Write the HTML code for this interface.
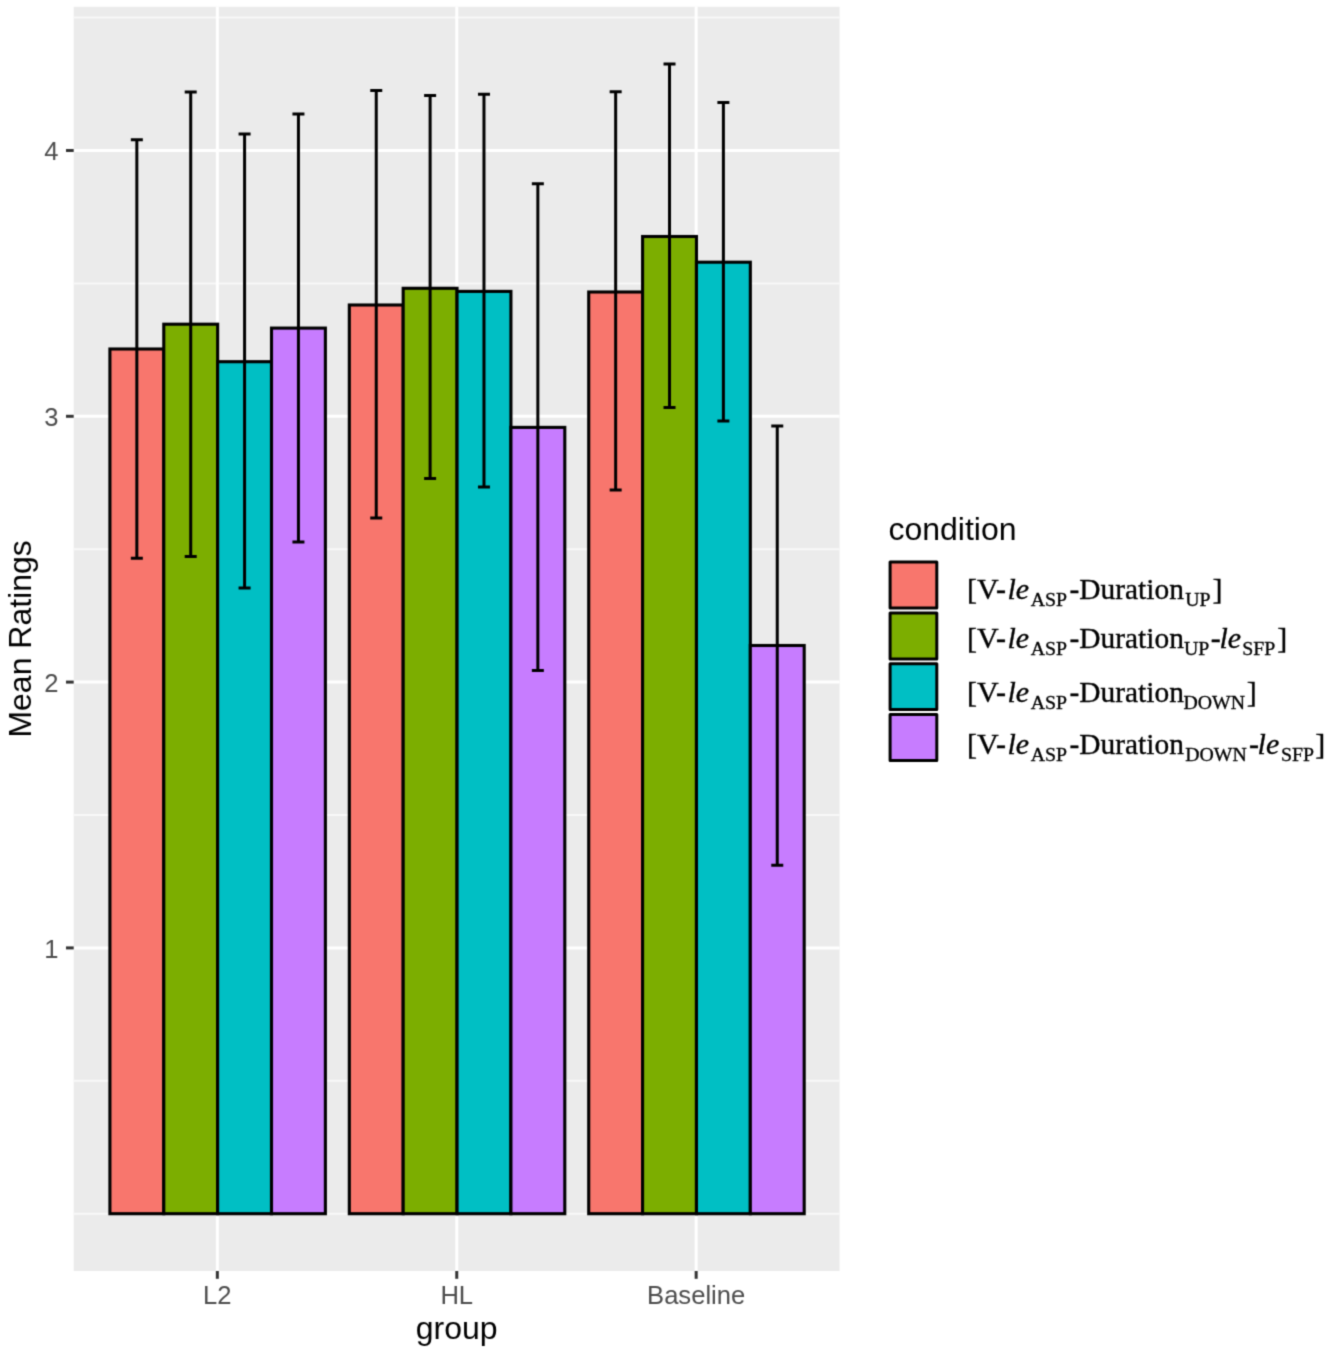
<!DOCTYPE html>
<html><head><meta charset="utf-8"><title>Mean Ratings by group</title>
<style>html,body{margin:0;padding:0;background:#fff;}body{width:1329px;height:1353px;overflow:hidden;}svg{display:block;}#c{width:1329px;height:1353px;}</style>
</head><body><div id="c">
<svg width="1329" height="1353" viewBox="0 0 1329 1353">
<defs><filter id="soft" x="0" y="0" width="1329" height="1353" filterUnits="userSpaceOnUse" color-interpolation-filters="sRGB"><feConvolveMatrix order="3" kernelMatrix="0.02768 0.11101 0.02768 0.11101 0.44521 0.11101 0.02768 0.11101 0.02768" edgeMode="duplicate" preserveAlpha="true"/></filter></defs>
<g filter="url(#soft)">
<rect x="0" y="0" width="1329" height="1353" fill="#FFFFFF"/>
<rect x="73.7" y="6.8" width="765.90" height="1264.20" fill="#EBEBEB"/>
<line x1="73.7" x2="839.6" y1="1213.70" y2="1213.70" stroke="#F8F8F8" stroke-width="2.0"/>
<line x1="73.7" x2="839.6" y1="1080.80" y2="1080.80" stroke="#F8F8F8" stroke-width="2.0"/>
<line x1="73.7" x2="839.6" y1="815.00" y2="815.00" stroke="#F8F8F8" stroke-width="2.0"/>
<line x1="73.7" x2="839.6" y1="549.20" y2="549.20" stroke="#F8F8F8" stroke-width="2.0"/>
<line x1="73.7" x2="839.6" y1="283.40" y2="283.40" stroke="#F8F8F8" stroke-width="2.0"/>
<line x1="73.7" x2="839.6" y1="17.60" y2="17.60" stroke="#F8F8F8" stroke-width="2.0"/>
<line x1="73.7" x2="839.6" y1="947.90" y2="947.90" stroke="#FFFFFF" stroke-width="3.0"/>
<line x1="73.7" x2="839.6" y1="682.10" y2="682.10" stroke="#FFFFFF" stroke-width="3.0"/>
<line x1="73.7" x2="839.6" y1="416.30" y2="416.30" stroke="#FFFFFF" stroke-width="3.0"/>
<line x1="73.7" x2="839.6" y1="150.50" y2="150.50" stroke="#FFFFFF" stroke-width="3.0"/>
<line x1="217.34" x2="217.34" y1="6.8" y2="1271.0" stroke="#FFFFFF" stroke-width="3.0"/>
<line x1="456.75" x2="456.75" y1="6.8" y2="1271.0" stroke="#FFFFFF" stroke-width="3.0"/>
<line x1="696.16" x2="696.16" y1="6.8" y2="1271.0" stroke="#FFFFFF" stroke-width="3.0"/>
<rect x="109.91" y="349.00" width="53.87" height="864.70" fill="#F8766D" stroke="#000000" stroke-width="3.1" stroke-linejoin="miter"/>
<rect x="163.78" y="324.20" width="53.87" height="889.50" fill="#7CAE00" stroke="#000000" stroke-width="3.1" stroke-linejoin="miter"/>
<rect x="217.64" y="361.70" width="53.87" height="852.00" fill="#00BFC4" stroke="#000000" stroke-width="3.1" stroke-linejoin="miter"/>
<rect x="271.51" y="328.10" width="53.87" height="885.60" fill="#C77CFF" stroke="#000000" stroke-width="3.1" stroke-linejoin="miter"/>
<rect x="349.32" y="305.00" width="53.87" height="908.70" fill="#F8766D" stroke="#000000" stroke-width="3.1" stroke-linejoin="miter"/>
<rect x="403.18" y="288.30" width="53.87" height="925.40" fill="#7CAE00" stroke="#000000" stroke-width="3.1" stroke-linejoin="miter"/>
<rect x="457.05" y="291.40" width="53.87" height="922.30" fill="#00BFC4" stroke="#000000" stroke-width="3.1" stroke-linejoin="miter"/>
<rect x="510.92" y="427.40" width="53.87" height="786.30" fill="#C77CFF" stroke="#000000" stroke-width="3.1" stroke-linejoin="miter"/>
<rect x="588.72" y="292.00" width="53.87" height="921.70" fill="#F8766D" stroke="#000000" stroke-width="3.1" stroke-linejoin="miter"/>
<rect x="642.59" y="236.50" width="53.87" height="977.20" fill="#7CAE00" stroke="#000000" stroke-width="3.1" stroke-linejoin="miter"/>
<rect x="696.46" y="262.20" width="53.87" height="951.50" fill="#00BFC4" stroke="#000000" stroke-width="3.1" stroke-linejoin="miter"/>
<rect x="750.32" y="645.50" width="53.87" height="568.20" fill="#C77CFF" stroke="#000000" stroke-width="3.1" stroke-linejoin="miter"/>
<path d="M130.84 139.80H142.84M136.84 139.80V558.20M130.84 558.20H142.84" fill="none" stroke="#000000" stroke-width="3.0" stroke-linecap="butt"/>
<path d="M184.71 92.00H196.71M190.71 92.00V556.40M184.71 556.40H196.71" fill="none" stroke="#000000" stroke-width="3.0" stroke-linecap="butt"/>
<path d="M238.58 133.90H250.58M244.58 133.90V588.00M238.58 588.00H250.58" fill="none" stroke="#000000" stroke-width="3.0" stroke-linecap="butt"/>
<path d="M292.44 114.00H304.44M298.44 114.00V542.00M292.44 542.00H304.44" fill="none" stroke="#000000" stroke-width="3.0" stroke-linecap="butt"/>
<path d="M370.25 90.60H382.25M376.25 90.60V518.10M370.25 518.10H382.25" fill="none" stroke="#000000" stroke-width="3.0" stroke-linecap="butt"/>
<path d="M424.12 95.40H436.12M430.12 95.40V478.40M424.12 478.40H436.12" fill="none" stroke="#000000" stroke-width="3.0" stroke-linecap="butt"/>
<path d="M477.98 94.20H489.98M483.98 94.20V486.90M477.98 486.90H489.98" fill="none" stroke="#000000" stroke-width="3.0" stroke-linecap="butt"/>
<path d="M531.85 183.70H543.85M537.85 183.70V670.50M531.85 670.50H543.85" fill="none" stroke="#000000" stroke-width="3.0" stroke-linecap="butt"/>
<path d="M609.66 91.70H621.66M615.66 91.70V489.90M609.66 489.90H621.66" fill="none" stroke="#000000" stroke-width="3.0" stroke-linecap="butt"/>
<path d="M663.52 63.90H675.52M669.52 63.90V407.50M663.52 407.50H675.52" fill="none" stroke="#000000" stroke-width="3.0" stroke-linecap="butt"/>
<path d="M717.39 102.50H729.39M723.39 102.50V420.90M717.39 420.90H729.39" fill="none" stroke="#000000" stroke-width="3.0" stroke-linecap="butt"/>
<path d="M771.26 425.90H783.26M777.26 425.90V865.30M771.26 865.30H783.26" fill="none" stroke="#000000" stroke-width="3.0" stroke-linecap="butt"/>
<line x1="66" x2="73.7" y1="947.90" y2="947.90" stroke="#333333" stroke-width="3.0"/>
<line x1="66" x2="73.7" y1="682.10" y2="682.10" stroke="#333333" stroke-width="3.0"/>
<line x1="66" x2="73.7" y1="416.30" y2="416.30" stroke="#333333" stroke-width="3.0"/>
<line x1="66" x2="73.7" y1="150.50" y2="150.50" stroke="#333333" stroke-width="3.0"/>
<line x1="217.34" x2="217.34" y1="1271.0" y2="1278.80" stroke="#333333" stroke-width="3.0"/>
<line x1="456.75" x2="456.75" y1="1271.0" y2="1278.80" stroke="#333333" stroke-width="3.0"/>
<line x1="696.16" x2="696.16" y1="1271.0" y2="1278.80" stroke="#333333" stroke-width="3.0"/>
<text x="58.5" y="957.56" font-family="'Liberation Sans', Arial, sans-serif" font-size="25.6" fill="#4D4D4D" text-anchor="end">1</text>
<text x="58.5" y="691.76" font-family="'Liberation Sans', Arial, sans-serif" font-size="25.6" fill="#4D4D4D" text-anchor="end">2</text>
<text x="58.5" y="425.96" font-family="'Liberation Sans', Arial, sans-serif" font-size="25.6" fill="#4D4D4D" text-anchor="end">3</text>
<text x="58.5" y="160.16" font-family="'Liberation Sans', Arial, sans-serif" font-size="25.6" fill="#4D4D4D" text-anchor="end">4</text>
<text x="217.34" y="1304.33" font-family="'Liberation Sans', Arial, sans-serif" font-size="25.6" fill="#4D4D4D" text-anchor="middle">L2</text>
<text x="456.75" y="1304.33" font-family="'Liberation Sans', Arial, sans-serif" font-size="25.6" fill="#4D4D4D" text-anchor="middle">HL</text>
<text x="696.16" y="1304.33" font-family="'Liberation Sans', Arial, sans-serif" font-size="25.6" fill="#4D4D4D" text-anchor="middle">Baseline</text>
<text x="456.65" y="1339" font-family="'Liberation Sans', Arial, sans-serif" font-size="32.0" fill="#000000" text-anchor="middle">group</text>
<text transform="translate(31 638.90) rotate(-90)" x="0" y="0" font-family="'Liberation Sans', Arial, sans-serif" font-size="32.0" fill="#000000" text-anchor="middle">Mean Ratings</text>
<text x="888.4" y="540.4" font-family="'Liberation Sans', Arial, sans-serif" font-size="32.0" fill="#000000">condition</text>
<rect x="890.1" y="562.00" width="46.7" height="45.9" fill="#F8766D" stroke="#000000" stroke-width="3" stroke-linejoin="round"/>
<rect x="890.1" y="613.10" width="46.7" height="45.9" fill="#7CAE00" stroke="#000000" stroke-width="3" stroke-linejoin="round"/>
<rect x="890.1" y="663.70" width="46.7" height="45.9" fill="#00BFC4" stroke="#000000" stroke-width="3" stroke-linejoin="round"/>
<rect x="890.1" y="714.60" width="46.7" height="45.9" fill="#C77CFF" stroke="#000000" stroke-width="3" stroke-linejoin="round"/>
<text x="967.0" y="598.70" font-family="'Liberation Serif', 'Times New Roman', serif" stroke="#000000" stroke-width="0.35" font-size="30" fill="#000000">[V-</text>
<text x="1007.5" y="598.70" font-family="'Liberation Serif', 'Times New Roman', serif" stroke="#000000" stroke-width="0.35" font-size="30" font-style="italic" fill="#000000">le</text>
<text x="1030.7" y="605.70" font-family="'Liberation Serif', 'Times New Roman', serif" stroke="#000000" stroke-width="0.35" font-size="19.8" fill="#000000">ASP</text>
<text x="1069.5" y="598.70" font-family="'Liberation Serif', 'Times New Roman', serif" stroke="#000000" stroke-width="0.35" font-size="30" fill="#000000" textLength="114.4" lengthAdjust="spacingAndGlyphs">-Duration</text>
<text x="1185.2" y="605.70" font-family="'Liberation Serif', 'Times New Roman', serif" stroke="#000000" stroke-width="0.35" font-size="19.8" fill="#000000">UP</text>
<text x="1212.6" y="598.70" font-family="'Liberation Serif', 'Times New Roman', serif" stroke="#000000" stroke-width="0.35" font-size="30" fill="#000000">]</text>
<text x="967.0" y="647.50" font-family="'Liberation Serif', 'Times New Roman', serif" stroke="#000000" stroke-width="0.35" font-size="30" fill="#000000">[V-</text>
<text x="1007.5" y="647.50" font-family="'Liberation Serif', 'Times New Roman', serif" stroke="#000000" stroke-width="0.35" font-size="30" font-style="italic" fill="#000000">le</text>
<text x="1030.7" y="654.50" font-family="'Liberation Serif', 'Times New Roman', serif" stroke="#000000" stroke-width="0.35" font-size="19.8" fill="#000000">ASP</text>
<text x="1069.5" y="647.50" font-family="'Liberation Serif', 'Times New Roman', serif" stroke="#000000" stroke-width="0.35" font-size="30" fill="#000000" textLength="114.4" lengthAdjust="spacingAndGlyphs">-Duration</text>
<text x="1184.0" y="654.50" font-family="'Liberation Serif', 'Times New Roman', serif" stroke="#000000" stroke-width="0.35" font-size="19.8" fill="#000000">UP</text>
<text x="1210.7" y="647.50" font-family="'Liberation Serif', 'Times New Roman', serif" stroke="#000000" stroke-width="0.35" font-size="30" fill="#000000">-</text>
<text x="1219.4" y="647.50" font-family="'Liberation Serif', 'Times New Roman', serif" stroke="#000000" stroke-width="0.35" font-size="30" font-style="italic" fill="#000000">le</text>
<text x="1242.2" y="654.50" font-family="'Liberation Serif', 'Times New Roman', serif" stroke="#000000" stroke-width="0.35" font-size="19.8" fill="#000000">SFP</text>
<text x="1277.3" y="647.50" font-family="'Liberation Serif', 'Times New Roman', serif" stroke="#000000" stroke-width="0.35" font-size="30" fill="#000000">]</text>
<text x="967.0" y="702.20" font-family="'Liberation Serif', 'Times New Roman', serif" stroke="#000000" stroke-width="0.35" font-size="30" fill="#000000">[V-</text>
<text x="1007.5" y="702.20" font-family="'Liberation Serif', 'Times New Roman', serif" stroke="#000000" stroke-width="0.35" font-size="30" font-style="italic" fill="#000000">le</text>
<text x="1030.7" y="709.20" font-family="'Liberation Serif', 'Times New Roman', serif" stroke="#000000" stroke-width="0.35" font-size="19.8" fill="#000000">ASP</text>
<text x="1069.5" y="702.20" font-family="'Liberation Serif', 'Times New Roman', serif" stroke="#000000" stroke-width="0.35" font-size="30" fill="#000000" textLength="114.4" lengthAdjust="spacingAndGlyphs">-Duration</text>
<text x="1183.5" y="709.20" font-family="'Liberation Serif', 'Times New Roman', serif" stroke="#000000" stroke-width="0.35" font-size="19.8" fill="#000000">DOWN</text>
<text x="1246.8" y="702.20" font-family="'Liberation Serif', 'Times New Roman', serif" stroke="#000000" stroke-width="0.35" font-size="30" fill="#000000">]</text>
<text x="967.0" y="753.70" font-family="'Liberation Serif', 'Times New Roman', serif" stroke="#000000" stroke-width="0.35" font-size="30" fill="#000000">[V-</text>
<text x="1007.5" y="753.70" font-family="'Liberation Serif', 'Times New Roman', serif" stroke="#000000" stroke-width="0.35" font-size="30" font-style="italic" fill="#000000">le</text>
<text x="1030.7" y="760.70" font-family="'Liberation Serif', 'Times New Roman', serif" stroke="#000000" stroke-width="0.35" font-size="19.8" fill="#000000">ASP</text>
<text x="1069.5" y="753.70" font-family="'Liberation Serif', 'Times New Roman', serif" stroke="#000000" stroke-width="0.35" font-size="30" fill="#000000" textLength="114.4" lengthAdjust="spacingAndGlyphs">-Duration</text>
<text x="1185.2" y="760.70" font-family="'Liberation Serif', 'Times New Roman', serif" stroke="#000000" stroke-width="0.35" font-size="19.8" fill="#000000">DOWN</text>
<text x="1249.1" y="753.70" font-family="'Liberation Serif', 'Times New Roman', serif" stroke="#000000" stroke-width="0.35" font-size="30" fill="#000000">-</text>
<text x="1257.6" y="753.70" font-family="'Liberation Serif', 'Times New Roman', serif" stroke="#000000" stroke-width="0.35" font-size="30" font-style="italic" fill="#000000">le</text>
<text x="1281.0" y="760.70" font-family="'Liberation Serif', 'Times New Roman', serif" stroke="#000000" stroke-width="0.35" font-size="19.8" fill="#000000">SFP</text>
<text x="1315.2" y="753.70" font-family="'Liberation Serif', 'Times New Roman', serif" stroke="#000000" stroke-width="0.35" font-size="30" fill="#000000">]</text>
</g>
</svg>
</div></body></html>
